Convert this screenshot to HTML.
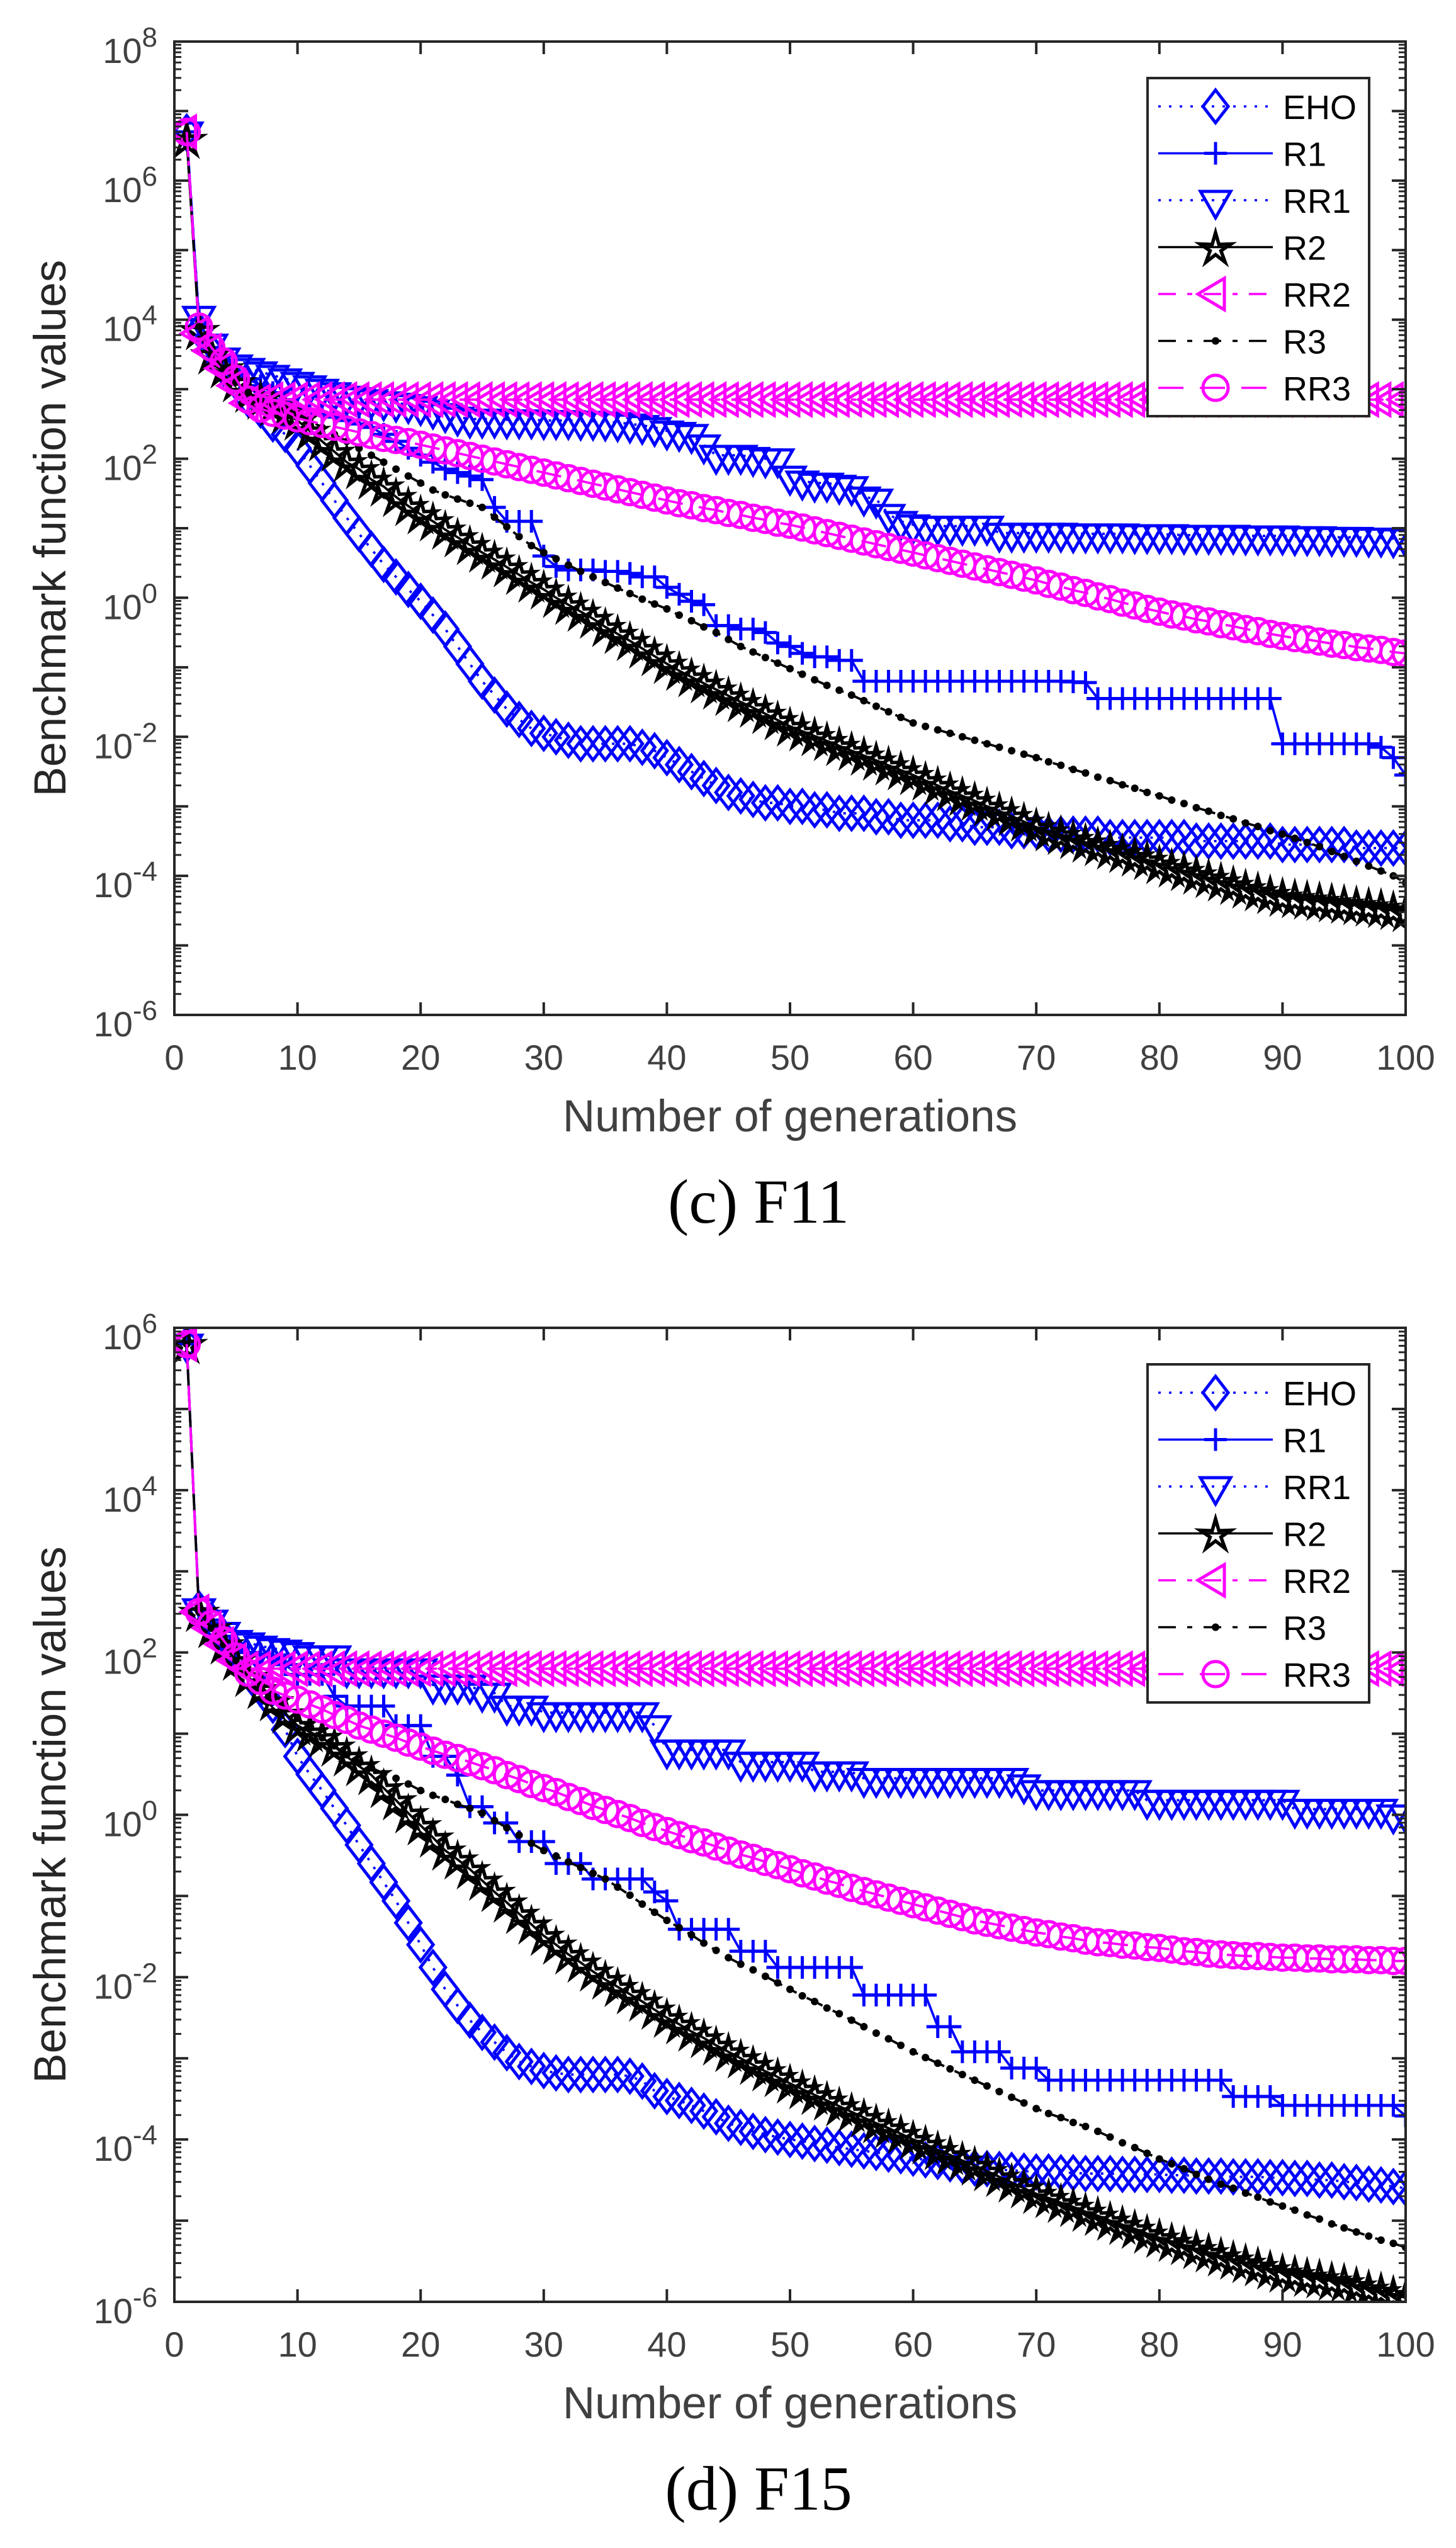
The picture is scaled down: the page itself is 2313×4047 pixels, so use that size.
<!DOCTYPE html>
<html><head><meta charset="utf-8"><style>
html,body{margin:0;padding:0;background:#fff;}
svg{display:block;}
</style></head><body>
<svg id="fig" width="2313" height="4047" viewBox="0 0 2313 4047" xmlns="http://www.w3.org/2000/svg"></svg>
<script>
// ---- data (log10 of benchmark function values), generations 1..100 ----
const generations = Array.from({length:100},(_, i)=>i+1);
const seriesNames = ["EHO","R1","RR1","R2","RR2","R3","RR3"];

// F11
const f11_EHO = [6.7,3.85,3.55,3.3,3.1,2.85,2.7,2.5,2.35,2.15,
1.9,1.65,1.4,1.15,0.92,0.7,0.48,0.3,0.12,-0.05,
-0.25,-0.45,-0.7,-0.95,-1.2,-1.4,-1.6,-1.75,-1.88,-1.95,
-2.0,-2.05,-2.1,-2.1,-2.1,-2.1,-2.1,-2.15,-2.2,-2.3,
-2.4,-2.5,-2.6,-2.7,-2.8,-2.85,-2.9,-2.95,-2.95,-3.0,
-3.0,-3.05,-3.05,-3.1,-3.1,-3.1,-3.15,-3.15,-3.2,-3.2,
-3.2,-3.2,-3.25,-3.25,-3.3,-3.3,-3.3,-3.35,-3.35,-3.35,
-3.4,-3.4,-3.4,-3.4,-3.4,-3.45,-3.45,-3.45,-3.45,-3.45,
-3.45,-3.45,-3.5,-3.5,-3.5,-3.5,-3.5,-3.5,-3.5,-3.55,
-3.55,-3.55,-3.55,-3.55,-3.55,-3.6,-3.6,-3.6,-3.6,-3.6];
const f11_R1 = [6.7,4.0,3.6,3.4,3.25,3.15,3.05,2.95,2.85,2.75,
2.7,2.65,2.6,2.55,2.5,2.45,2.35,2.25,2.15,2.05,
1.95,1.85,1.8,1.75,1.7,1.3,1.1,1.1,1.1,0.6,
0.45,0.4,0.4,0.4,0.38,0.38,0.35,0.3,0.3,0.15,
0.05,-0.05,-0.1,-0.4,-0.4,-0.45,-0.45,-0.5,-0.65,-0.7,
-0.8,-0.85,-0.85,-0.9,-0.9,-1.2,-1.2,-1.2,-1.2,-1.2,
-1.2,-1.2,-1.2,-1.2,-1.2,-1.2,-1.2,-1.2,-1.2,-1.2,
-1.2,-1.2,-1.21,-1.22,-1.45,-1.45,-1.45,-1.45,-1.45,-1.45,
-1.45,-1.45,-1.45,-1.45,-1.45,-1.45,-1.45,-1.45,-1.45,-2.1,
-2.1,-2.1,-2.1,-2.1,-2.1,-2.1,-2.1,-2.15,-2.3,-2.55];
const f11_RR1 = [6.7,4.05,3.65,3.45,3.35,3.3,3.25,3.2,3.15,3.1,
3.05,3.0,2.95,2.9,2.88,2.85,2.82,2.8,2.78,2.75,
2.7,2.65,2.6,2.57,2.57,2.57,2.56,2.56,2.56,2.55,
2.55,2.55,2.54,2.54,2.53,2.52,2.5,2.48,2.45,2.4,
2.38,2.35,2.2,2.05,2.05,2.05,2.02,2.0,2.0,1.75,
1.68,1.65,1.65,1.62,1.6,1.45,1.42,1.2,1.1,1.05,
1.03,1.03,1.03,1.03,1.03,1.03,0.93,0.93,0.93,0.93,
0.93,0.93,0.92,0.92,0.92,0.92,0.92,0.91,0.91,0.91,
0.91,0.9,0.9,0.9,0.9,0.9,0.89,0.89,0.89,0.89,
0.88,0.88,0.88,0.87,0.87,0.87,0.86,0.86,0.85,0.85];
const f11_R2 = [6.6,3.85,3.5,3.3,3.1,2.95,2.85,2.75,2.65,2.55,
2.4,2.25,2.1,1.95,1.85,1.7,1.6,1.45,1.32,1.2,
1.1,0.98,0.87,0.76,0.65,0.55,0.44,0.33,0.22,0.12,
0.0,-0.1,-0.2,-0.3,-0.42,-0.52,-0.62,-0.73,-0.84,-0.95,
-1.05,-1.14,-1.23,-1.32,-1.41,-1.5,-1.58,-1.67,-1.76,-1.85,
-1.92,-1.99,-2.06,-2.13,-2.2,-2.27,-2.34,-2.41,-2.48,-2.55,
-2.63,-2.7,-2.78,-2.85,-2.92,-3.0,-3.07,-3.14,-3.22,-3.3,
-3.36,-3.41,-3.47,-3.52,-3.57,-3.62,-3.67,-3.72,-3.77,-3.83,
-3.88,-3.93,-3.98,-4.03,-4.08,-4.13,-4.18,-4.22,-4.26,-4.3,
-4.32,-4.34,-4.36,-4.38,-4.4,-4.42,-4.44,-4.46,-4.49,-4.52];
const f11_RR2 = [6.7,3.8,3.55,3.3,3.05,2.8,2.82,2.85,2.85,2.85,
2.85,2.85,2.85,2.85,2.85,2.85,2.85,2.85,2.85,2.85,
2.85,2.85,2.85,2.85,2.85,2.85,2.85,2.85,2.85,2.85,
2.85,2.85,2.85,2.85,2.85,2.85,2.85,2.85,2.85,2.85,
2.85,2.85,2.85,2.85,2.85,2.85,2.85,2.85,2.85,2.85,
2.85,2.85,2.85,2.85,2.85,2.85,2.85,2.85,2.85,2.85,
2.85,2.85,2.85,2.85,2.85,2.85,2.85,2.85,2.85,2.85,
2.85,2.85,2.85,2.85,2.85,2.85,2.85,2.85,2.85,2.85,
2.85,2.85,2.85,2.85,2.85,2.85,2.85,2.85,2.85,2.85,
2.85,2.85,2.85,2.85,2.85,2.85,2.85,2.85,2.85,2.85];
const f11_R3 = [6.6,3.9,3.5,3.3,3.1,2.95,2.85,2.78,2.72,2.65,
2.55,2.45,2.35,2.25,2.15,2.05,1.95,1.85,1.75,1.65,
1.55,1.48,1.42,1.36,1.3,1.16,1.02,0.88,0.75,0.65,
0.56,0.47,0.38,0.3,0.22,0.14,0.06,-0.02,-0.09,-0.16,
-0.25,-0.33,-0.42,-0.5,-0.6,-0.7,-0.78,-0.86,-0.94,-1.02,
-1.1,-1.18,-1.26,-1.33,-1.4,-1.48,-1.56,-1.64,-1.72,-1.8,
-1.85,-1.9,-1.95,-2.0,-2.05,-2.1,-2.15,-2.2,-2.25,-2.3,
-2.36,-2.41,-2.47,-2.52,-2.58,-2.63,-2.69,-2.74,-2.8,-2.85,
-2.91,-2.96,-3.02,-3.07,-3.13,-3.18,-3.24,-3.29,-3.35,-3.4,
-3.46,-3.52,-3.58,-3.65,-3.72,-3.79,-3.86,-3.93,-4.0,-4.1];
const f11_RR3 = [6.7,3.9,3.6,3.4,3.15,2.85,2.72,2.66,2.62,2.58,
2.54,2.5,2.46,2.42,2.38,2.34,2.3,2.27,2.24,2.2,
2.16,2.12,2.08,2.04,2.0,1.96,1.92,1.88,1.84,1.8,
1.76,1.72,1.68,1.64,1.6,1.56,1.52,1.48,1.44,1.4,
1.36,1.33,1.29,1.26,1.22,1.19,1.15,1.12,1.08,1.05,
1.01,0.97,0.93,0.89,0.85,0.81,0.77,0.73,0.69,0.65,
0.61,0.57,0.53,0.49,0.45,0.41,0.37,0.33,0.29,0.25,
0.2,0.16,0.11,0.07,0.02,-0.02,-0.07,-0.11,-0.16,-0.2,
-0.24,-0.27,-0.31,-0.34,-0.38,-0.41,-0.45,-0.48,-0.52,-0.55,
-0.58,-0.6,-0.63,-0.66,-0.68,-0.71,-0.73,-0.75,-0.78,-0.8];

// F15
const f15_EHO = [5.8,2.54,2.4,2.2,2.0,1.75,1.55,1.35,1.05,0.72,
0.5,0.3,0.08,-0.13,-0.37,-0.6,-0.83,-1.06,-1.33,-1.6,
-1.88,-2.15,-2.35,-2.53,-2.68,-2.8,-2.93,-3.04,-3.1,-3.15,
-3.18,-3.2,-3.2,-3.2,-3.2,-3.2,-3.22,-3.28,-3.4,-3.47,
-3.52,-3.58,-3.65,-3.72,-3.8,-3.85,-3.9,-3.94,-3.97,-4.0,
-4.02,-4.05,-4.07,-4.1,-4.12,-4.14,-4.16,-4.18,-4.2,-4.23,
-4.25,-4.27,-4.3,-4.32,-4.35,-4.36,-4.37,-4.38,-4.39,-4.4,
-4.4,-4.41,-4.41,-4.42,-4.42,-4.42,-4.43,-4.43,-4.43,-4.43,
-4.44,-4.44,-4.45,-4.45,-4.45,-4.46,-4.46,-4.46,-4.47,-4.47,
-4.48,-4.48,-4.5,-4.5,-4.52,-4.53,-4.55,-4.56,-4.58,-4.6];
const f15_R1 = [5.8,2.54,2.4,2.2,2.05,2.0,1.98,1.96,1.85,1.73,
1.73,1.73,1.46,1.34,1.34,1.34,1.34,1.1,1.1,1.1,
0.72,0.72,0.49,0.1,0.1,-0.1,-0.1,-0.33,-0.33,-0.33,
-0.6,-0.6,-0.6,-0.79,-0.79,-0.79,-0.79,-0.79,-0.95,-1.06,
-1.41,-1.41,-1.41,-1.41,-1.41,-1.68,-1.68,-1.68,-1.88,-1.88,
-1.88,-1.88,-1.88,-1.88,-1.88,-2.22,-2.22,-2.22,-2.22,-2.22,
-2.22,-2.61,-2.61,-2.92,-2.92,-2.92,-2.92,-3.12,-3.12,-3.12,
-3.27,-3.27,-3.27,-3.27,-3.27,-3.27,-3.27,-3.27,-3.27,-3.27,
-3.27,-3.27,-3.27,-3.27,-3.27,-3.47,-3.47,-3.47,-3.47,-3.58,
-3.58,-3.58,-3.58,-3.58,-3.58,-3.58,-3.58,-3.58,-3.58,-3.71];
const f15_RR1 = [5.8,2.54,2.4,2.25,2.15,2.12,2.08,2.05,2.03,2.0,
1.96,1.96,1.96,1.8,1.8,1.8,1.8,1.8,1.8,1.8,
1.6,1.6,1.6,1.6,1.5,1.5,1.34,1.34,1.34,1.26,
1.26,1.26,1.26,1.26,1.26,1.26,1.26,1.26,1.1,0.8,
0.8,0.8,0.8,0.8,0.8,0.65,0.65,0.65,0.65,0.65,
0.65,0.53,0.53,0.53,0.53,0.45,0.45,0.45,0.45,0.45,
0.45,0.45,0.45,0.45,0.45,0.45,0.45,0.45,0.37,0.3,
0.3,0.3,0.3,0.3,0.3,0.3,0.3,0.3,0.18,0.18,
0.18,0.18,0.18,0.18,0.18,0.18,0.18,0.18,0.18,0.18,
0.07,0.07,0.07,0.07,0.07,0.07,0.07,0.07,0.0,0.0];
const f15_R2 = [5.8,2.5,2.3,2.1,1.9,1.7,1.55,1.4,1.25,1.1,
1.02,0.95,0.84,0.72,0.6,0.49,0.33,0.18,0.02,-0.13,
-0.28,-0.44,-0.55,-0.67,-0.81,-0.95,-1.08,-1.22,-1.35,-1.49,
-1.6,-1.72,-1.82,-1.93,-2.03,-2.12,-2.21,-2.3,-2.4,-2.5,
-2.58,-2.67,-2.75,-2.84,-2.92,-3.0,-3.08,-3.16,-3.23,-3.31,
-3.38,-3.45,-3.52,-3.59,-3.66,-3.73,-3.8,-3.86,-3.93,-4.0,
-4.06,-4.13,-4.19,-4.26,-4.32,-4.39,-4.46,-4.53,-4.6,-4.67,
-4.72,-4.78,-4.83,-4.89,-4.94,-5.0,-5.05,-5.1,-5.16,-5.21,
-5.26,-5.3,-5.35,-5.39,-5.44,-5.48,-5.52,-5.56,-5.6,-5.64,
-5.66,-5.69,-5.71,-5.74,-5.76,-5.8,-5.84,-5.87,-5.91,-5.95];
const f15_RR2 = [5.8,2.5,2.3,2.1,1.9,1.8,1.8,1.8,1.8,1.8,
1.8,1.8,1.8,1.8,1.8,1.8,1.8,1.8,1.8,1.8,
1.8,1.8,1.8,1.8,1.8,1.8,1.8,1.8,1.8,1.8,
1.8,1.8,1.8,1.8,1.8,1.8,1.8,1.8,1.8,1.8,
1.8,1.8,1.8,1.8,1.8,1.8,1.8,1.8,1.8,1.8,
1.8,1.8,1.8,1.8,1.8,1.8,1.8,1.8,1.8,1.8,
1.8,1.8,1.8,1.8,1.8,1.8,1.8,1.8,1.8,1.8,
1.8,1.8,1.8,1.8,1.8,1.8,1.8,1.8,1.8,1.8,
1.8,1.8,1.8,1.8,1.8,1.8,1.8,1.8,1.8,1.8,
1.8,1.8,1.8,1.8,1.8,1.8,1.8,1.8,1.8,1.8];
const f15_R3 = [5.8,2.5,2.3,2.1,1.9,1.75,1.6,1.42,1.3,1.19,
1.07,0.95,0.85,0.74,0.64,0.58,0.51,0.45,0.38,0.3,
0.24,0.19,0.13,0.08,0.02,-0.07,-0.16,-0.25,-0.35,-0.44,
-0.51,-0.58,-0.65,-0.72,-0.79,-0.89,-0.99,-1.1,-1.2,-1.3,
-1.39,-1.48,-1.58,-1.67,-1.76,-1.84,-1.91,-1.99,-2.07,-2.15,
-2.23,-2.3,-2.38,-2.45,-2.53,-2.61,-2.69,-2.76,-2.84,-2.92,
-2.99,-3.06,-3.13,-3.2,-3.27,-3.34,-3.41,-3.48,-3.55,-3.62,
-3.68,-3.73,-3.79,-3.84,-3.9,-3.97,-4.04,-4.1,-4.17,-4.24,
-4.3,-4.36,-4.43,-4.49,-4.55,-4.6,-4.66,-4.71,-4.77,-4.82,
-4.87,-4.93,-4.98,-5.04,-5.09,-5.14,-5.19,-5.24,-5.28,-5.33];
const f15_RR3 = [5.8,2.5,2.35,2.15,1.95,1.75,1.65,1.53,1.47,1.42,
1.36,1.3,1.23,1.17,1.1,1.05,1.0,0.95,0.89,0.84,
0.79,0.74,0.7,0.65,0.6,0.55,0.49,0.44,0.38,0.33,
0.28,0.22,0.17,0.11,0.06,0.01,-0.04,-0.1,-0.15,-0.2,
-0.25,-0.3,-0.34,-0.39,-0.44,-0.49,-0.53,-0.58,-0.62,-0.67,
-0.72,-0.76,-0.81,-0.85,-0.9,-0.94,-0.98,-1.02,-1.06,-1.1,
-1.14,-1.18,-1.22,-1.26,-1.3,-1.33,-1.36,-1.39,-1.42,-1.45,
-1.47,-1.5,-1.52,-1.55,-1.57,-1.58,-1.6,-1.61,-1.63,-1.64,
-1.66,-1.68,-1.69,-1.71,-1.72,-1.73,-1.74,-1.74,-1.75,-1.76,
-1.76,-1.77,-1.77,-1.78,-1.78,-1.78,-1.79,-1.79,-1.8,-1.8];

const xTickLabels = ["0","10","20","30","40","50","60","70","80","90","100"];
const f11_yExponents = [8,6,4,2,0,-2,-4,-6];
const f15_yExponents = [6,4,2,0,-2,-4,-6];

// ---- rendering ----
const NS = "http://www.w3.org/2000/svg";
const svg = document.getElementById('fig');
function mk(tag, attrs, parent){
  const e = document.createElementNS(NS, tag);
  for (const k in attrs) e.setAttribute(k, attrs[k]);
  (parent||svg).appendChild(e);
  return e;
}
const styles = {
  EHO:{color:"#0000ff",dash:"4 13",marker:"diamond"},
  R1:{color:"#0000ff",dash:"",marker:"plus"},
  RR1:{color:"#0000ff",dash:"4 13",marker:"tridown"},
  R2:{color:"#000000",dash:"",marker:"star"},
  RR2:{color:"#ff00ff",dash:"28 18 8 18",marker:"trileft"},
  R3:{color:"#000000",dash:"28 18 8 18",marker:"dot"},
  RR3:{color:"#ff00ff",dash:"40 26",marker:"circle"}
};
function starPts(cx,cy,R,r){
  const p=[];
  for(let i=0;i<10;i++){const a=-Math.PI/2+i*Math.PI/5;const rr=i%2?r:R;p.push((cx+rr*Math.cos(a)).toFixed(1)+","+(cy+rr*Math.sin(a)).toFixed(1));}
  return p.join(" ");
}
function drawMarker(g, type, x, y, color){
  const sw=5;
  if(type==="diamond") return mk('polygon',{points:`${x},${y-26} ${x+20},${y} ${x},${y+26} ${x-20},${y}`,fill:"none",stroke:color,"stroke-width":sw},g);
  if(type==="plus") return mk('path',{d:`M${x-18},${y}H${x+18}M${x},${y-18}V${y+18}`,stroke:color,"stroke-width":sw,fill:"none"},g);
  if(type==="tridown") return mk('polygon',{points:`${x-24},${y-14} ${x+24},${y-14} ${x},${y+28}`,fill:"none",stroke:color,"stroke-width":sw},g);
  if(type==="trileft") return mk('polygon',{points:`${x-28},${y} ${x+14},${y-25} ${x+14},${y+25}`,fill:"none",stroke:color,"stroke-width":sw},g);
  if(type==="star") return mk('polygon',{points:starPts(x,y+3,26,9),fill:"none",stroke:color,"stroke-width":5.5},g);
  if(type==="circle") return mk('circle',{cx:x,cy:y,r:20,fill:"none",stroke:color,"stroke-width":sw},g);
  if(type==="dot") return mk('circle',{cx:x,cy:y,r:6,fill:color,stroke:"none"},g);
}

const panels = [
  {id:"f11", T:66, B:1612, ymax:8, ymin:-6, exps:f11_yExponents, caption:"(c) F11",
   data:{EHO:f11_EHO,R1:f11_R1,RR1:f11_RR1,R2:f11_R2,RR2:f11_RR2,R3:f11_R3,RR3:f11_RR3}},
  {id:"f15", T:2109, B:3656, ymax:6, ymin:-6, exps:f15_yExponents, caption:"(d) F15",
   data:{EHO:f15_EHO,R1:f15_R1,RR1:f15_RR1,R2:f15_R2,RR2:f15_RR2,R3:f15_R3,RR3:f15_RR3}}
];
const X0=277, X1=2233;
const AX="#262626", TXT="#404040";

panels.forEach(P=>{
  const xs = g => X0 + g*(X1-X0)/100;
  const ys = l => P.T + (P.ymax-l)*(P.B-P.T)/(P.ymax-P.ymin);
  const panel = mk('g',{});
  
  

  const cp = mk('clipPath',{id:"clip-"+P.id},panel);
  mk('rect',{x:X0,y:P.T,width:X1-X0,height:P.B-P.T},cp);

  const plotG = mk('g',{"clip-path":"url(#clip-"+P.id+")"},panel);
  
  
  seriesNames.forEach(name=>{
    const st = styles[name], vals = P.data[name];
    const sg = mk('g',{},plotG);
    
    
    const n = Math.min(vals.length, generations.length);
    let d="";
    for(let i=0;i<n;i++) d += (i?"L":"M")+xs(generations[i]).toFixed(1)+","+ys(vals[i]).toFixed(1);
    const line = mk('path',{d:d,fill:"none",stroke:st.color,"stroke-width":3.8,"stroke-linejoin":"round"},sg);
    if(st.dash) line.setAttribute('stroke-dasharray', st.dash);
    
    
    for(let i=0;i<n;i++){
      const m = drawMarker(sg, st.marker, xs(generations[i]), ys(vals[i]), st.color);
      
      
    }
  });

  const axG = mk('g',{},panel);
  
  
  mk('rect',{x:X0,y:P.T,width:X1-X0,height:P.B-P.T,fill:"none",stroke:AX,"stroke-width":4},axG);
  xTickLabels.forEach((lab,i)=>{
    const g = i*10, x = xs(g);
    mk('line',{x1:x,y1:P.B,x2:x,y2:P.B-20,stroke:AX,"stroke-width":4},axG);
    mk('line',{x1:x,y1:P.T,x2:x,y2:P.T+20,stroke:AX,"stroke-width":4},axG);
    const t = mk('text',{x:x,y:P.B+87,"text-anchor":"middle","font-family":"Liberation Sans, Arial, sans-serif","font-size":56,fill:TXT},axG);
    t.textContent = lab;
    
    
  });
  for(let e=P.ymin;e<=P.ymax;e++){
    const y = ys(e);
    mk('line',{x1:X0,y1:y,x2:X0+22,y2:y,stroke:AX,"stroke-width":4},axG);
    mk('line',{x1:X1,y1:y,x2:X1-22,y2:y,stroke:AX,"stroke-width":4},axG);
    if(e<P.ymax){
      for(let k=2;k<=9;k++){
        const ym = ys(e+Math.log10(k));
        mk('line',{x1:X0,y1:ym,x2:X0+11,y2:ym,stroke:AX,"stroke-width":3},axG);
        mk('line',{x1:X1,y1:ym,x2:X1-11,y2:ym,stroke:AX,"stroke-width":3},axG);
      }
    }
  }
  P.exps.forEach(e=>{
    const y = ys(e);
    const t = mk('text',{x:250,y:y+34,"text-anchor":"end","font-family":"Liberation Sans, Arial, sans-serif","font-size":56,fill:TXT},axG);
    
    
    const base = mk('tspan',{},t); base.textContent="10";
    const sup = mk('tspan',{dy:-26,"font-size":44},t); sup.textContent=String(e);
  });
  const xl = mk('text',{x:(X0+X1)/2,y:P.B+185,"text-anchor":"middle","font-family":"Liberation Sans, Arial, sans-serif","font-size":71,fill:TXT},panel);
  xl.textContent="Number of generations";
  
  
  const cy=(P.T+P.B)/2;
  const yl = mk('text',{transform:`translate(104,${cy}) rotate(-90)`,x:0,y:0,"text-anchor":"middle","font-family":"Liberation Sans, Arial, sans-serif","font-size":71,fill:"#262626"},panel);
  yl.textContent="Benchmark function values";
  
  
  const cap = mk('text',{x:1205,y:P.B+330,"text-anchor":"middle","font-family":"Liberation Serif, Times New Roman, serif","font-size":100,fill:"#000"},panel);
  cap.textContent=P.caption;
  
  

  const off = P.T-66;
  const lg = mk('g',{},panel);
  
  
  mk('rect',{x:1823,y:124+off,width:352,height:537,fill:"#fff",stroke:AX,"stroke-width":4},lg);
  seriesNames.forEach((name,i)=>{
    const st=styles[name], y=169+off+i*74.5;
    const eg = mk('g',{},lg);
    
    
    const ln = mk('line',{x1:1840,y1:y,x2:2022,y2:y,stroke:st.color,"stroke-width":3.5},eg);
    if(st.dash) ln.setAttribute('stroke-dasharray', st.dash);
    drawMarker(eg, st.marker, 1931, y, st.color);
    const t = mk('text',{x:2038,y:y+20,"font-family":"Liberation Sans, Arial, sans-serif","font-size":54,fill:"#000"},eg);
    t.textContent=name;
  });
});
</script>
</body></html>
